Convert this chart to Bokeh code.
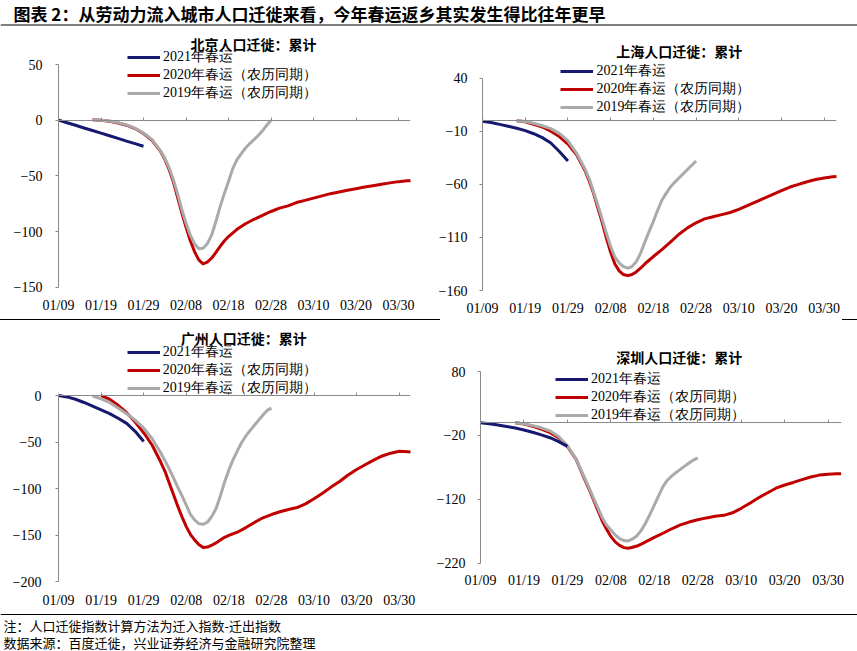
from bokeh.plotting import figure
from bokeh.layouts import column, row
from bokeh.models import Range1d, FixedTicker, LinearAxis, Legend, LegendItem, Label, Span, Div
from bokeh.embed import file_html
from bokeh.resources import INLINE
from bokeh.core.properties import value

NAN = float("nan")

PAGE_TITLE = "图表 2：从劳动力流入城市人口迁徙来看，今年春运返乡其实发生得比往年更早"
NOTE = "注：人口迁徙指数计算方法为迁入指数-迁出指数"
SOURCE = "数据来源：百度迁徙，兴业证券经济与金融研究院整理"
SERIES_NAMES = ["2021年春运", "2020年春运（农历同期）", "2019年春运（农历同期）"]

TICK_DAYS = [0, 10, 20, 30, 40, 50, 60, 70, 80]
TICK_LABELS = ["01/09", "01/19", "01/29", "02/08", "02/18", "02/28", "03/10", "03/20", "03/30"]

# day offsets from 01/09
DAYS_2021 = [0, 2, 4, 6, 8, 10, 12, 14, 16, 18, 20]
DAYS_2020 = [8, 10, 12, 14, 16, 18, 20, 22,
             24, 25, 26, 27, 28, 29, 30, 31, 32, 33, 34, 35, 36, 37, 38, 39, 40,
             42, 44, 46, 48, 50, 52, 54, 56, 58, 60, 62, 64, 66, 68, 70, 72, 74, 76, 78, 80, 82, 83]
DAYS_2019 = [8, 10, 12, 14, 16, 18, 20, 22,
             24, 25, 26, 27, 28, 29, 30, 31, 32, 33, 34, 35, 36, 37, 38, 39, 40,
             41, 42, 43, 44, 45, 46, 47, 48, 49, 50]

# 北京
BJ_2021 = [0, -2.3, -4.6, -7, -9.3, -11.6, -14, -16.4, -18.8, -21.1, -23.4]
BJ_2020 = [0.3, 0, -1, -2.5, -4.5, -7.5, -12, -18,
           -28, -35, -44, -55, -69, -83, -96, -108, -118, -125.5, -129, -127.5, -124, -119, -113.5, -108.5, -104.5,
           -98, -93, -89, -85.5, -82, -79, -77, -74, -72, -70, -68, -66, -64.5, -63, -61.5, -60, -58.8, -57.5,
           -56.3, -55.2, -54.5, -54.3]
BJ_2019 = [0.3, 0, -0.8, -2.2, -4.2, -7.2, -11.5, -17.5,
           -27.5, -34, -42.5, -53, -66, -80, -92.5, -103, -111, -115.5, -115, -111, -103.5, -91.5, -78, -66, -55,
           -43.5, -35.5, -30, -25, -21, -17.5, -13.8, -9.6, -4.5, 0]

# 上海
SH_2021 = [-0.5, -1.8, -3.5, -5.2, -7.2, -9.4, -12.3, -16, -21, -29, -38]
SH_2020 = [0, -1, -3.5, -6, -10, -15, -22, -32,
           -47, -57, -68.5, -82, -95.5, -110.5, -124, -135, -141.5, -145, -146, -145, -142.5, -139, -135, -131.5, -128,
           -121.5, -114.5, -107, -101, -96.2, -92.5, -90.5, -88.5, -86.5, -83.5, -80, -76.5, -73, -69.5, -66, -62.5,
           -60, -57.5, -55.5, -54, -52.8, -52.5]
SH_2019 = [0, -0.7, -2.5, -4.8, -7.5, -12, -19, -30.5,
           -45.5, -55, -67, -79.5, -92.5, -106, -118.5, -128.5, -134, -137.5, -139, -137.5, -133, -125, -114.5,
           -104.5, -95, -84.5, -75, -68.5, -62.5, -58, -54, -50, -46, -42, -38]

# 广州
GZ_2021 = [0, -1.5, -4, -7.5, -11.5, -15.5, -19.5, -24.5, -30, -38.5, -49.5]
GZ_2020 = [NAN, 0, -4, -10.5, -18.5, -28.5, -40, -53.5,
           -71.5, -81.5, -94, -106.5, -119, -130.5, -141, -149.5, -155.5, -160.5, -163.5, -163, -161, -158.5,
           -155.5, -152.5, -150.5,
           -147, -142, -136.5, -131.5, -128, -125, -122.5, -120.5, -116.5, -111, -105, -98.5, -92.5, -85.5, -79.5,
           -74.5, -69.5, -65, -62, -60, -60.5, -60.7]
GZ_2019 = [-0.5, -3.5, -7.5, -13.5, -19.5, -26.5, -35, -46.5,
           -61.5, -70, -79, -88.5, -98.5, -108, -118, -128, -134, -138, -138.5, -136, -130, -121.5, -108, -93, -80,
           -69, -59.5, -50.5, -43.5, -37.5, -32, -26.5, -21, -16, -13.5]

# 深圳
SZ_2021 = [0, -1.6, -3.6, -5.8, -8.4, -11.4, -15, -19, -23.5, -29.5, -37]
SZ_2020 = [0, -2, -5.5, -10, -15.5, -23.5, -37, -57.5,
           -89, -104, -120.5, -137, -153.5, -166.5, -178, -186.5, -192, -195.5, -196.5, -195, -193, -190, -186.5,
           -183, -179.5,
           -173, -166, -160, -155.5, -152, -149, -146.5, -145, -141, -134, -126, -117.5, -110, -102.5, -97.5, -93.5,
           -89, -85, -82, -80.5, -80, -80]
SZ_2019 = [0, -1.5, -4.5, -8, -13, -21.5, -36, -57,
           -87, -102, -118, -133, -148.5, -160, -168, -175.5, -181.5, -184.5, -185, -182, -177, -168.5, -157, -143.5,
           -129, -114, -100, -90, -83.5, -78, -73, -68, -63, -58.5, -55]

NAVY = "#17186f"
RED = "#c00000"
GRAY = "#aaaaaa"
AXIS = "#8a8a8a"
SERIF = "Liberation Serif"
CJK = "Noto Sans CJK SC"


def base_fig(w, h, **kw):
    return figure(width=w, height=h, output_backend="svg", toolbar_location=None,
                  x_axis_type=None, y_axis_type=None, outline_line_color=None,
                  background_fill_color="white", border_fill_color="white", **kw)


def panel(title, y21, y20, y19, yticks, anchors, px_per_day, w, h, borders, ystand, xstand,
          title_px, legend_xy, legend_sp):
    left, right, bottom = borders
    # anchors: pixel rows (from the panel's top edge) of the top and bottom y ticks
    px_hi, px_lo = anchors
    v_hi, v_lo = max(yticks), min(yticks)
    frame_h = h - bottom
    k = (px_lo - px_hi) / (v_hi - v_lo)
    y_end = v_hi + px_hi / k
    y_start = v_lo - (frame_h - px_lo) / k
    x_end = (w - left - right) / px_per_day

    p = base_fig(w, h, x_range=Range1d(0, x_end), y_range=Range1d(y_start, y_end),
                 min_border_left=left, min_border_right=right,
                 min_border_top=0, min_border_bottom=bottom)
    yax = LinearAxis(ticker=FixedTicker(ticks=yticks), bounds=(v_lo, v_hi),
                     axis_line_color=AXIS, axis_line_width=1,
                     major_tick_line_color=AXIS, major_tick_out=3, major_tick_in=0,
                     minor_tick_line_color=None, major_label_standoff=ystand,
                     major_label_text_font=SERIF, major_label_text_font_size="14px",
                     major_label_text_color="black")
    p.add_layout(yax, "left")
    xax = LinearAxis(ticker=FixedTicker(ticks=TICK_DAYS),
                     major_label_overrides={d: s for d, s in zip(TICK_DAYS, TICK_LABELS)},
                     axis_line_color=None, major_tick_line_color=None, major_tick_out=0, major_tick_in=0,
                     minor_tick_line_color=None, major_label_standoff=xstand,
                     major_label_text_font=SERIF, major_label_text_font_size="14px",
                     major_label_text_color="black")
    p.add_layout(xax, "below")
    zax = LinearAxis(fixed_location=0, ticker=FixedTicker(ticks=TICK_DAYS), axis_line_color=AXIS,
                     axis_line_width=1, major_tick_line_color=AXIS, major_tick_out=0, major_tick_in=3,
                     minor_tick_line_color=None, major_label_text_font_size="0px",
                     major_label_text_alpha=0, major_label_standoff=0)
    p.add_layout(zax, "below")

    r20 = p.line(DAYS_2020, y20, line_color=RED, line_width=3, line_join="round")
    r19 = p.line(DAYS_2019, y19, line_color=GRAY, line_width=3, line_join="round")
    r21 = p.line(DAYS_2021, y21, line_color=NAVY, line_width=3, line_join="round")

    leg = Legend(items=[LegendItem(label=SERIES_NAMES[0], renderers=[r21]),
                        LegendItem(label=SERIES_NAMES[1], renderers=[r20]),
                        LegendItem(label=SERIES_NAMES[2], renderers=[r19])],
                 location=legend_xy, orientation="vertical", glyph_width=33, glyph_height=14,
                 label_height=14, label_standoff=3, spacing=legend_sp, padding=0, margin=0,
                 border_line_color=None, background_fill_alpha=0,
                 label_text_font=SERIF, label_text_font_size="14px", label_text_line_height=1.0,
                 label_text_color="black")
    p.add_layout(leg, "center")
    # title position given in panel pixels, converted through the panel's own scales
    tx = (title_px[0] - left) / px_per_day
    ty = y_end - title_px[1] / k
    p.add_layout(Label(x=tx, y=ty, x_units="data", y_units="data", text=title,
                       text_align="center", text_baseline="middle", text_font=CJK,
                       text_font_size="14px", text_font_style="bold", text_color="black"))
    return p


# top row: panels span page y 30..319; bottom row: 320..610
p_bj = panel("北京人口迁徙：累计", BJ_2021, BJ_2020, BJ_2019, [-150, -100, -50, 0, 50],
             (34.0, 256.7), 4.25, 428, 289, (58, 18, 29), 13, 7, (253, 13.3), (69, 188), -5)
p_sh = panel("上海人口迁徙：累计", SH_2021, SH_2020, SH_2019, [-160, -110, -60, -10, 40],
             (47.7, 260.0), 4.271, 429, 289, (54, 21, 29), 12, 10, (250.8, 20), (78.4, 173.8), -1)
p_gz = panel("广州人口迁徙：累计", GZ_2021, GZ_2020, GZ_2019, [-200, -150, -100, -50, 0],
             (75.3, 262.0), 4.259, 428, 290, (58, 18, 28), 14, 11, (243.3, 18), (68.7, 184), -1)
p_sz = panel("深圳人口迁徙：累计", SZ_2021, SZ_2020, SZ_2019, [-220, -120, -20, 80],
             (51.3, 243.7), 4.345, 429, 290, (52, 16, 28), 12, -9, (250.8, 36.3), (75, 157), -1)

hdr = base_fig(857, 30, x_range=Range1d(0, 857), y_range=Range1d(0, 30), min_border=0)
hdr.text(x=[13], y=[16.7], text=[PAGE_TITLE], text_font=value(CJK), text_font_style="bold",
         text_font_size="17px", text_baseline="middle", text_align="left", text_color="black")
hdr.add_layout(Span(location=5.5, dimension="width", line_color="black", line_width=1))

sep = row(Div(width=440, height=1, margin=0, styles={"background-color": "black"}),
          Div(width=402, height=1, margin=0, styles={"background-color": "white"}),
          Div(width=15, height=1, margin=0, styles={"background-color": "black"}))

ftr = base_fig(857, 41, x_range=Range1d(0, 857), y_range=Range1d(0, 41), min_border=0)
ftr.add_layout(Span(location=37, dimension="width", line_color="black", line_width=1))
ftr.text(x=[3, 3], y=[26, 9.3], text=[NOTE, SOURCE], text_font=value(CJK), text_font_size="13px",
         text_baseline="middle", text_align="left", text_color="black")

layout = column(hdr, row(p_bj, p_sh), sep, row(p_gz, p_sz), ftr)

open("out.html", "w").write(file_html(layout, INLINE))
